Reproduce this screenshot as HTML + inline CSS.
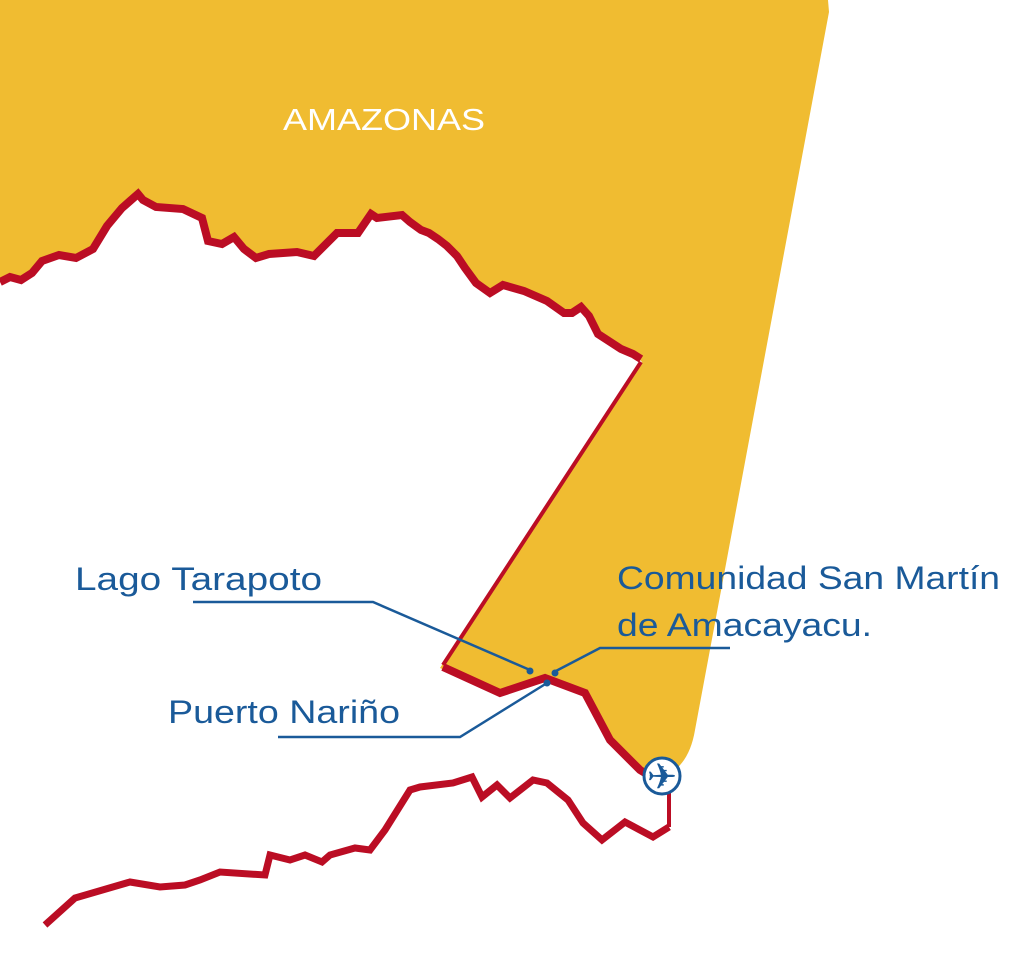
<!DOCTYPE html>
<html><head><meta charset="utf-8"><style>
html,body{margin:0;padding:0;background:#fff;}
svg{display:block;}
text{font-family:"Liberation Sans",sans-serif;}
</style></head><body>
<svg width="1024" height="958" viewBox="0 0 1024 958" xmlns="http://www.w3.org/2000/svg">
<path fill="#f0bc31" d="M0,0 L828,0 L829,12 L695,730 Q690,760 672,772 L655,780 L640,770 L610,740 L585,693 L545,678 L500,695 L440,668 L642,362 L633,353 L621,348 L598,333 L589,315 L581,307 L572,312 L564,312 L547,300 L524,290 L505,282 L490,292 L476,282 L465,267 L457,255 L447,245 L438,238 L429,232 L421,229 L410,222 L402,215 L377,217 L371,214 L358,233 L337,233 L314,255 L297,252 L269,253 L256,257 L244,248 L234,236 L222,243 L208,240 L202,217 L183,208 L156,207 L143,200 L138,194 L122,208 L107,225 L93,248 L76,257 L59,255 L42,260 L32,272 L21,278 L10,276 L0,280 Z"/>
<g fill="none" stroke="#bb0d24" stroke-linejoin="miter">
<path stroke-width="8" d="M0,282 L10,277 L21,280 L32,273 L42,261 L59,255 L76,258 L93,249 L107,226 L122,208 L138,194 L143,200 L156,207 L183,209 L202,218 L208,241 L222,244 L234,237 L244,249 L256,258 L269,254 L297,252 L314,256 L337,233 L358,233 L371,214 L377,218 L402,215 L410,222 L421,230 L429,233 L438,239 L447,246 L457,256 L465,268 L476,283 L490,293 L503,285 L524,291 L547,301 L564,313 L572,313 L581,307 L589,316 L598,334 L621,349 L633,354 L641,359"/>
<path stroke-width="4" d="M641,362 L443,665"/>
<path stroke-width="8" d="M443,667 L500,693 L545,678 L585,693 L610,740 L640,770 L660,782"/>
<path stroke-width="4" d="M669,790 L669,827"/>
<path stroke-width="7" d="M669,827 L653,837 L625,822 L602,840 L583,823 L568,800 L547,783 L533,780 L510,798 L497,785 L482,797 L472,777 L453,783 L420,787 L410,790 L385,830 L370,850 L355,848 L330,855 L322,862 L305,855 L290,860 L270,855 L265,875 L220,872 L200,880 L185,885 L160,887 L130,882 L75,898 L45,925"/>
</g>
<g stroke="#1a5a99" stroke-width="2.5" fill="none">
<path d="M193,602 L373,602 L530,670"/>
<path d="M554,672 L600,648 L730,648"/>
<path d="M278,737 L460,737 L547,683"/>
</g>
<g fill="#1a5a99">
<circle cx="530" cy="671" r="3.5"/>
<circle cx="555" cy="673" r="3.5"/>
<circle cx="547" cy="683" r="3.5"/>
</g>
<circle cx="662" cy="776" r="18" fill="#fff" stroke="#1a5a99" stroke-width="3"/>
<text x="662" y="789" font-size="36" fill="#1a5a99" text-anchor="middle">✈</text>
<text x="283" y="130" font-size="31" fill="#fff" textLength="202" lengthAdjust="spacingAndGlyphs">AMAZONAS</text>
<g fill="#1a5a99" font-size="32">
<text x="75" y="590" textLength="247" lengthAdjust="spacingAndGlyphs">Lago Tarapoto</text>
<text x="617" y="589" textLength="383" lengthAdjust="spacingAndGlyphs">Comunidad San Martín</text>
<text x="617" y="636" textLength="255" lengthAdjust="spacingAndGlyphs">de Amacayacu.</text>
<text x="168" y="723" textLength="232" lengthAdjust="spacingAndGlyphs">Puerto Nariño</text>
</g>
</svg>
</body></html>
